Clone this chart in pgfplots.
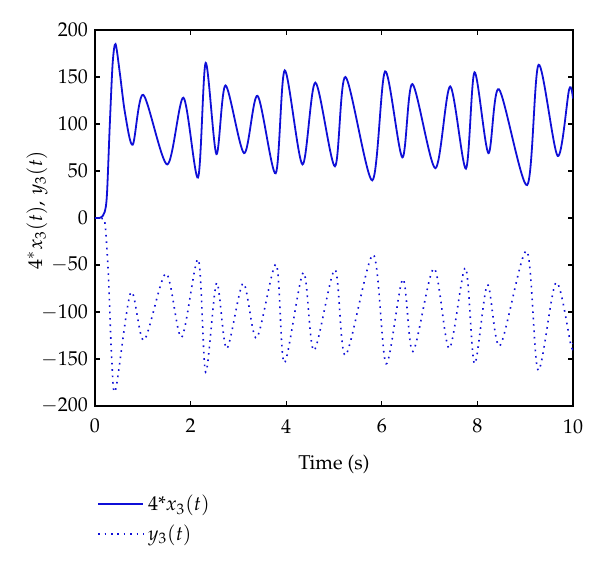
\documentclass[border=0pt]{standalone}
\usepackage[T1]{fontenc}
\usepackage{mathpazo}
\usepackage{pgfplots}
\pgfplotsset{compat=1.18}
\definecolor{mblue}{RGB}{15,15,215}
\begin{document}
\begin{tikzpicture}
\begin{axis}[
  name=ax,
  scale only axis,
  width=239pt, height=188pt,
  at={(0,0)}, anchor=south west,
  xmin=0, xmax=10, ymin=-200, ymax=200,
  xtick={0,2,4,6,8,10},
  ytick={-200,-150,-100,-50,0,50,100,150,200},
  tick align=inside,
  major tick length=2.5pt,
  axis line style={line width=0.6pt},
  every tick/.style={line width=0.6pt, black},
  xticklabel style={yshift=-3pt},
  xlabel={Time (s)},
  xlabel style={yshift=-4pt},
  ylabel={$4^{*}x_3(t),\, y_3(t)$},
  every axis y label/.style={at={(axis description cs:-0.121,0.52)}, rotate=90, anchor=center},
  legend style={at={(axis description cs:0.004,-0.225)}, anchor=north west, draw=none, fill=none, inner sep=0pt, row sep=1.5pt,
    nodes={inner sep=2pt}},
  legend cell align=left,
  legend image code/.code={\draw[#1] (0pt,0pt) -- (18.5pt,0pt); \path (0pt,0pt) -- (22.5pt,0pt);},
]
\addplot[mblue, line width=0.9pt, smooth, tension=0.5] coordinates {
(0,0) (0.12,0.5) (0.2,6) (0.25,25) (0.31,100) (0.37,165) (0.43,185) (0.52,154) (0.63,111) (0.79,78)
(1.01,131) (1.51,57) (1.85,128) (2.155,43) (2.315,165) (2.54,68) (2.73,141) (3.12,69) (3.40,130)
(3.78,47.5) (3.97,157) (4.34,57) (4.61,144) (5.02,55) (5.24,150) (5.80,40) (6.07,156) (6.43,64.5)
(6.64,142.5) (7.12,53) (7.43,140) (7.76,52.5) (7.94,155) (8.23,69) (8.45,137) (9.04,35) (9.28,163)
(9.68,66) (9.92,137) (10,127)
};
\addlegendentry{4*$x_3(t)$}
\addplot[mblue, line width=0.8pt, dash pattern=on 0.8pt off 2.4pt, smooth, tension=0.5] coordinates {
(0,0) (0.15,-0.5) (0.21,-6) (0.28,-60) (0.35,-150) (0.43,-183) (0.75,-79) (1.025,-130) (1.485,-59)
(1.81,-127) (2.16,-44) (2.315,-164) (2.545,-69) (2.755,-139) (3.10,-69.4) (3.38,-127.7) (3.79,-49.3)
(3.96,-154) (4.36,-58) (4.58,-141) (5.02,-55) (5.24,-146) (5.82,-39) (6.09,-155) (6.44,-65) (6.65,-142)
(7.09,-53.5) (7.41,-138.7) (7.75,-53) (7.94,-155) (8.21,-71) (8.47,-136) (9.03,-35) (9.27,-162)
(9.645,-68.6) (9.96,-136) (10,-133)
};
\addlegendentry{$y_3(t)$}
\end{axis}
\path (-47.5pt,-83pt) rectangle (252.5pt,203pt);
\end{tikzpicture}
\end{document}
